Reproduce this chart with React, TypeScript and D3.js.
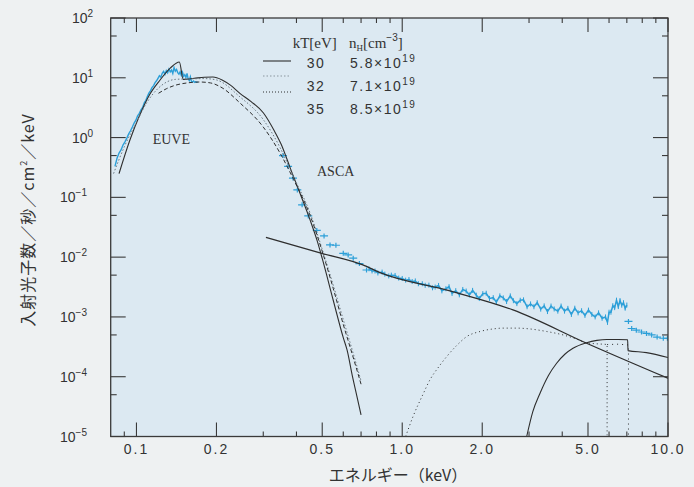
import React from 'react';
import * as d3 from 'd3';

// ---- axis ticks ----
const xMajor = [0.1, 0.2, 0.5, 1, 2, 5, 10];
const xMajorLabels = ['0.1', '0.2', '0.5', '1.0', '2.0', '5.0', '10.0'];
const xMinor = [0.09, 0.3, 0.4, 0.6, 0.7, 0.8, 0.9, 3, 4, 6, 7, 8, 9];
const yExponents = [2, 1, 0, -1, -2, -3, -4, -5];
const yMinor = [50, 5, 0.5, 0.05, 0.005, 5e-4, 5e-5];

// ---- legend ----
const legendKT = ['30', '32', '35'];
const legendNH = ['5.8', '7.1', '8.5'];

// ---- models, [keV, photons/s/cm2/keV] ----
const model30 = [
  [0.086, 0.25], [0.0945, 0.91], [0.103, 2.4], [0.112, 5.2], [0.1225, 9.1],
  [0.134, 14.5], [0.145, 18.4], [0.150, 9.4], [0.165, 9.8], [0.18, 10.2],
  [0.194, 10.3], [0.21, 9.2], [0.225, 7.6], [0.245, 5.5], [0.27, 4.0],
  [0.30, 2.6], [0.33, 1.3], [0.35, 0.78], [0.38, 0.3], [0.41, 0.125],
  [0.45, 0.042], [0.48, 0.018], [0.50, 0.0095], [0.55, 1.9e-3], [0.60, 4.5e-4],
  [0.62, 2.8e-4], [0.65, 1.0e-4], [0.676, 4.6e-5], [0.70, 2.3e-5],
];
const model32 = [
  [0.082, 0.25], [0.09, 0.7], [0.10, 1.8], [0.11, 4.0], [0.12, 6.5],
  [0.13, 8.5], [0.14, 9.4], [0.16, 9.6], [0.18, 9.7], [0.2, 9.2],
  [0.245, 4.8], [0.30, 2.0], [0.347, 0.68], [0.39, 0.22], [0.45, 0.055],
  [0.50, 0.0135], [0.55, 3.4e-3], [0.60, 9e-4], [0.65, 2.7e-4], [0.70, 8.5e-5],
];
const model35 = [
  [0.121, 5.5], [0.13, 6.6], [0.14, 7.5], [0.155, 8.2], [0.173, 8.5],
  [0.19, 8.2], [0.21, 6.8], [0.245, 3.8], [0.30, 1.5], [0.347, 0.55],
  [0.39, 0.2], [0.45, 0.05], [0.50, 0.0125], [0.55, 3.0e-3], [0.60, 7.5e-4],
  [0.65, 2.3e-4], [0.70, 7.5e-5],
];
const powerLaw = [
  [0.307, 0.0215], [0.498, 0.0116], [0.711, 7.4e-3], [0.825, 5.5e-3],
  [1.5, 2.75e-3], [2.61, 1.31e-3], [4.94, 3.63e-4], [10, 9.4e-5],
];
const hardDotted = [
  [1.03, 1e-5], [1.1, 2.2e-5], [1.2, 5.2e-5], [1.27, 8.8e-5], [1.37, 1.45e-4],
  [1.47, 2.17e-4], [1.6, 3.3e-4], [1.75, 4.7e-4], [1.96, 5.7e-4], [2.2, 6.3e-4],
  [2.39, 6.5e-4], [2.7, 6.5e-4], [3.02, 6.3e-4], [3.5, 5.7e-4], [4.03, 5.0e-4],
  [4.5, 4.3e-4], [4.93, 3.7e-4], [5.4, 3.55e-4], [5.9, 3.45e-4], [5.9, 1e-5],
];
const hardDottedEdge = [[5.9, 3.45e-4], [6.5, 3.5e-4], [7.1, 3.4e-4], [7.1, 1e-5]];
const hardSolid = [
  [2.94, 1e-5], [3.1, 2.6e-5], [3.3, 5.3e-5], [3.55, 1.05e-4], [3.81, 1.68e-4],
  [4.1, 2.4e-4], [4.39, 3.0e-4], [4.94, 3.7e-4], [5.4, 4.05e-4], [5.88, 4.2e-4],
  [6.5, 4.2e-4], [7.05, 4.15e-4], [7.07, 2.73e-4], [8.3, 2.53e-4], [10, 2.1e-4],
];

// ---- data ----
const euve = [
  [0.083, 0.33], [0.0845, 0.45], [0.086, 0.55], [0.0875, 0.62], [0.089, 0.75],
  [0.0905, 0.85], [0.092, 0.98], [0.0935, 1.15], [0.095, 1.3], [0.0965, 1.5],
  [0.098, 1.75], [0.0995, 1.95], [0.101, 2.3], [0.1025, 2.55], [0.104, 2.9],
  [0.1055, 3.2], [0.107, 3.8], [0.1085, 4.2], [0.110, 4.9], [0.1115, 5.6],
  [0.113, 6.1], [0.1145, 6.9], [0.116, 7.4], [0.1175, 8.3], [0.119, 8.9],
  [0.1205, 9.8], [0.122, 10.8], [0.1235, 10.2], [0.125, 11.9], [0.1265, 12.8],
  [0.128, 11.4], [0.1295, 13.2], [0.131, 12.1], [0.1325, 14.0], [0.134, 12.6],
  [0.1355, 13.5], [0.137, 11.8], [0.1385, 14.8], [0.140, 12.9], [0.1415, 13.8],
  [0.143, 12.2], [0.1445, 11.5], [0.146, 12.6], [0.1475, 11.0], [0.149, 12.4],
  [0.1505, 10.6], [0.152, 11.3], [0.1535, 10.1], [0.155, 11.8], [0.1565, 9.6],
  [0.158, 9.0], [0.1595, 10.4], [0.161, 8.7], [0.1625, 8.5], [0.164, 8.8],
  [0.1655, 8.4], [0.167, 8.6], [0.1685, 8.4], [0.170, 8.5],
];
const ascaLow = [
  [0.356, 0.5], [0.372, 0.33], [0.388, 0.21], [0.403, 0.133], [0.42, 0.075],
  [0.443, 0.049], [0.477, 0.028], [0.508, 0.0226], [0.535, 0.016], [0.563, 0.0158],
  [0.600, 0.0116], [0.626, 0.0109], [0.654, 0.0096], [0.69, 0.0078], [0.734, 0.0061],
];
const ascaMid = [
  [0.75, 6.39e-3], [0.77, 5.88e-3], [0.79, 5.86e-3], [0.81, 5.43e-3], [0.84, 5.62e-3],
  [0.86, 5.2e-3], [0.89, 4.85e-3], [0.91, 5.0e-3], [0.94, 4.94e-3], [0.97, 4.46e-3],
  [1.00, 4.4e-3], [1.03, 4.12e-3], [1.06, 4.22e-3], [1.09, 3.91e-3], [1.12, 4.0e-3],
  [1.15, 3.59e-3], [1.19, 3.59e-3], [1.22, 3.38e-3], [1.26, 3.4e-3], [1.30, 3.07e-3],
  [1.33, 3.16e-3], [1.37, 3.36e-3], [1.41, 2.73e-3], [1.46, 2.96e-3], [1.50, 3.2e-3],
  [1.54, 2.47e-3], [1.59, 2.75e-3], [1.64, 2.34e-3], [1.69, 2.88e-3], [1.74, 2.71e-3],
  [1.79, 2.33e-3], [1.84, 2.78e-3], [1.90, 2.31e-3], [1.95, 2.03e-3], [2.01, 2.45e-3],
  [2.07, 2.49e-3], [2.13, 2.04e-3], [2.20, 2.1e-3], [2.26, 1.77e-3], [2.33, 2.25e-3],
  [2.40, 2.08e-3], [2.47, 1.81e-3], [2.55, 2.25e-3], [2.62, 1.87e-3], [2.70, 1.67e-3],
  [2.78, 1.9e-3], [2.86, 1.93e-3], [2.95, 1.48e-3], [3.04, 1.65e-3], [3.13, 1.48e-3],
  [3.22, 1.73e-3], [3.32, 1.35e-3], [3.42, 1.53e-3], [3.52, 1.23e-3], [3.63, 1.52e-3],
  [3.73, 1.36e-3], [3.85, 1.25e-3], [3.96, 1.52e-3], [4.08, 1.25e-3], [4.20, 1.39e-3],
  [4.33, 1.1e-3], [4.46, 1.4e-3], [4.59, 1.17e-3], [4.73, 1.27e-3], [4.87, 1.06e-3],
  [5.02, 1.3e-3], [5.17, 1.1e-3], [5.32, 1.0e-3], [5.48, 1.17e-3], [5.65, 0.95e-3],
  [5.82, 1.0e-3], [5.92, 0.81e-3], [6.00, 1.2e-3], [6.10, 1.2e-3], [6.20, 1.54e-3],
  [6.30, 1.43e-3], [6.40, 1.9e-3], [6.50, 1.49e-3], [6.60, 1.87e-3], [6.70, 1.57e-3],
  [6.80, 1.73e-3], [6.90, 1.4e-3], [7.00, 1.58e-3],
];
const ascaHigh = [
  [7.1, 8.4e-4], [7.3, 6.4e-4], [7.6, 6.0e-4], [7.95, 5.6e-4], [8.3, 5.3e-4],
  [8.68, 5.0e-4], [9.1, 4.6e-4], [9.6, 4.4e-4], [9.95, 4.4e-4],
];

const W = 694;
const H = 487;
const m = { left: 110.7, right: 668, top: 18, bottom: 436.5 };
const INK = '#2e2e2e';
const BLUE = '#2c9fd8';
const NUM_FONT = '"Liberation Sans", Arial, sans-serif';
const SERIF = '"Liberation Serif", "Times New Roman", serif';
const CJK = '"Noto Sans CJK JP", sans-serif';

export default function App() {
  const x = d3.scaleLog().domain([0.08, 10]).range([m.left, m.right]);
  const y = d3.scaleLog().domain([1e-5, 1e2]).range([m.bottom, m.top]);

  const smooth = d3.line<number[]>().x(d => x(d[0])).y(d => y(d[1])).curve(d3.curveMonotoneX);
  const straight = d3.line<number[]>().x(d => x(d[0])).y(d => y(d[1]));

  const cross = (d: number[], i: number) => (
    <g key={i} stroke={BLUE} strokeWidth={1.2}>
      <line x1={x(d[0]) - 4} x2={x(d[0]) + 4} y1={y(d[1])} y2={y(d[1])} />
      <line x1={x(d[0])} x2={x(d[0])} y1={y(d[1]) - 2.5} y2={y(d[1]) + 2.5} />
    </g>
  );

  return (
    <svg width={W} height={H} style={{ position: 'absolute', left: 0, top: 0 }}>
      <defs>
        <clipPath id="plotClip">
          <rect x={m.left} y={m.top} width={m.right - m.left} height={m.bottom - m.top} />
        </clipPath>
      </defs>
      <rect width={W} height={H} fill="#eef1f2" />
      <rect x={m.left} y={m.top} width={m.right - m.left} height={m.bottom - m.top} fill="#dce9f2" />

      <g clipPath="url(#plotClip)" fill="none">
        {/* data */}
        <path d={straight(euve) || ''} stroke={BLUE} strokeWidth={1.4} />
        <path d={straight(ascaMid) || ''} stroke={BLUE} strokeWidth={1.5} />
        <g stroke={BLUE} strokeWidth={1}>
          {ascaMid.map((d, i) => (
            <line key={i} x1={x(d[0])} x2={x(d[0])} y1={y(d[1]) - 2.5} y2={y(d[1]) + 2.5} />
          ))}
        </g>
        {ascaLow.map(cross)}
        {ascaHigh.map(cross)}

        {/* models */}
        <path d={smooth(model30) || ''} stroke={INK} strokeWidth={1.1} />
        <path d={smooth(model32) || ''} stroke="#6a7780" strokeWidth={1} strokeDasharray="1.5,2" />
        <path d={smooth(model35) || ''} stroke={INK} strokeWidth={1} strokeDasharray="4,2.5" />
        <path d={smooth(powerLaw) || ''} stroke={INK} strokeWidth={1.3} />
        <path d={smooth(hardDotted) || ''} stroke={INK} strokeWidth={1} strokeDasharray="1,3" />
        <path d={straight(hardDottedEdge) || ''} stroke={INK} strokeWidth={1} strokeDasharray="1,4" />
        <path d={smooth(hardSolid) || ''} stroke={INK} strokeWidth={1.1} />
      </g>

      {/* frame and ticks */}
      <rect x={m.left} y={m.top} width={m.right - m.left} height={m.bottom - m.top} fill="none" stroke="#3a3a3a" strokeWidth={1.3} />
      <g stroke="#3a3a3a" strokeWidth={1.1}>
        {xMajor.map(v => (
          <g key={'xM' + v}>
            <line x1={x(v)} x2={x(v)} y1={m.bottom} y2={m.bottom - 14} />
            <line x1={x(v)} x2={x(v)} y1={m.top} y2={m.top + 14} />
          </g>
        ))}
        {xMinor.map(v => (
          <g key={'xm' + v}>
            <line x1={x(v)} x2={x(v)} y1={m.bottom} y2={m.bottom - 5} />
            <line x1={x(v)} x2={x(v)} y1={m.top} y2={m.top + 5} />
          </g>
        ))}
        {yExponents.map(e => (
          <g key={'yM' + e}>
            <line x1={m.left} x2={m.left + 15} y1={y(10 ** e)} y2={y(10 ** e)} />
            <line x1={m.right} x2={m.right - 15} y1={y(10 ** e)} y2={y(10 ** e)} />
          </g>
        ))}
        {yMinor.map(v => (
          <g key={'ym' + v}>
            <line x1={m.left} x2={m.left + 6} y1={y(v)} y2={y(v)} />
            <line x1={m.right} x2={m.right - 6} y1={y(v)} y2={y(v)} />
          </g>
        ))}
      </g>

      {/* tick labels */}
      <g fill="#333" fontFamily={NUM_FONT} fontSize={14}>
        {xMajor.map((v, i) => (
          <text key={'xl' + v} x={x(v)} y={454} textAnchor="middle" letterSpacing={2}>{xMajorLabels[i]}</text>
        ))}
        {yExponents.map(e => (
          <text key={'yl' + e} x={e < 0 ? 60 : 72} y={y(10 ** e) + 5}>
            10<tspan fontSize={10} dy={-6}>{e < 0 ? '\u2212' + Math.abs(e) : String(e)}</tspan>
          </text>
        ))}
      </g>

      {/* axis titles */}
      <text x={398} y={481} textAnchor="middle" fontFamily={CJK} fontSize={16} fill="#333">エネルギー（keV）</text>
      <text transform="translate(34,220) rotate(-90)" textAnchor="middle" fontFamily={CJK} fontSize={16} fill="#333" letterSpacing={1}>
        入射光子数／秒／cm<tspan fontSize={9} dy={-7}>2</tspan><tspan dy={7}>／keV</tspan>
      </text>

      {/* annotations */}
      <text x={152.7} y={144} fontFamily={SERIF} fontSize={14} fill="#333">EUVE</text>
      <text x={317} y={176} fontFamily={SERIF} fontSize={14} fill="#333">ASCA</text>

      {/* legend */}
      <g fill="#333">
        <text x={292.7} y={48} fontFamily={SERIF} fontSize={15}>kT[eV]</text>
        <text x={349} y={48} fontFamily={SERIF} fontSize={15}>
          n<tspan fontSize={9} dy={3}>H</tspan><tspan dy={-3}>[cm</tspan><tspan fontSize={10} dy={-7} fontFamily={NUM_FONT}>{'\u22123'}</tspan><tspan dy={7}>]</tspan>
        </text>
        {legendKT.map((k, i) => (
          <g key={k} fontFamily={NUM_FONT} fontSize={14} letterSpacing={1.5}>
            <text x={306.7} y={68 + i * 23}>{k}</text>
            <text x={350} y={68 + i * 23}>
              {legendNH[i]}×10<tspan fontSize={10} dy={-6}>19</tspan>
            </text>
          </g>
        ))}
        <line x1={263} x2={291} y1={61} y2={61} stroke={INK} strokeWidth={1.1} />
        <line x1={263} x2={291} y1={76} y2={76} stroke="#8a969e" strokeWidth={1} strokeDasharray="1.5,2" />
        <line x1={263} x2={291} y1={92} y2={92} stroke={INK} strokeWidth={1} strokeDasharray="1,2" />
      </g>
    </svg>
  );
}
